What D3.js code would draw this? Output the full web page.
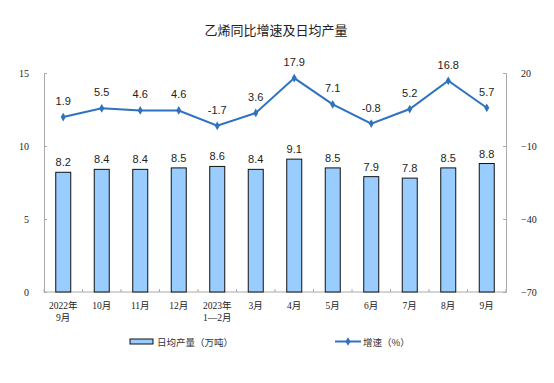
<!DOCTYPE html>
<html>
<head>
<meta charset="utf-8">
<script src="https://cdn.jsdelivr.net/npm/d3@7"></script>
<style>
  body { margin: 0; background: #fff; }
  svg { display: block; }
</style>
</head>
<body>
<svg id="chart" width="554" height="383"></svg>
<script>
// data
const months = ["2022年\n9月", "10月", "11月", "12月", "2023年\n1—2月", "3月", "4月", "5月", "6月", "7月", "8月", "9月"];
const output = [8.2, 8.4, 8.4, 8.5, 8.6, 8.4, 9.1, 8.5, 7.9, 7.8, 8.5, 8.8];
const growth = [1.9, 5.5, 4.6, 4.6, -1.7, 3.6, 17.9, 7.1, -0.8, 5.2, 16.8, 5.7];
const leftTicks = [0, 5, 10, 15];
const rightTicks = [-70, -40, -10, 20];

const svg = d3.select("#chart");
const x0 = 44, x1 = 506, yTop = 73, yBot = 292;
const serif = "'Liberation Serif', 'Noto Sans CJK SC', serif";
const sans = "'Liberation Sans', Arial, sans-serif";
const cjk = "'Noto Sans CJK SC', sans-serif";

let x = d3.scaleBand().domain(d3.range(months.length)).range([x0, x1]);
let yL = d3.scaleLinear().domain([0, 15]).range([yBot, yTop]);
let yR = d3.scaleLinear().domain([-70, 20]).range([yBot, yTop]);

// title
svg.append("text")
    .attr("x", 276).attr("y", 35)
    .attr("text-anchor", "middle")
    .style("font-family", cjk).style("font-size", "13px").style("fill", "#222")
    .text("乙烯同比增速及日均产量");

// left axis
let gl = svg.append("g").attr("transform", "translate(" + x0 + ",0)")
    .call(d3.axisLeft(yL).tickValues(leftTicks).tickSize(-3).tickPadding(15));
gl.select(".domain").attr("stroke", "#aaa");
gl.selectAll(".tick line").attr("stroke", "#aaa");
gl.selectAll(".tick text").style("font-family", serif).style("font-size", "10px").attr("fill", "#222");

// right axis
let gr = svg.append("g").attr("transform", "translate(" + x1 + ",0)")
    .call(d3.axisRight(yR).tickValues(rightTicks).tickSize(-3).tickPadding(15));
gr.select(".domain").attr("stroke", "#aaa");
gr.selectAll(".tick line").attr("stroke", "#aaa");
gr.selectAll(".tick text").style("font-family", serif).style("font-size", "10px").attr("fill", "#222");

// x axis baseline with ticks between categories
let gx = svg.append("g");
gx.append("line").attr("x1", x0).attr("x2", x1).attr("y1", yBot).attr("y2", yBot).attr("stroke", "#aaa");
gx.selectAll(".sep").data(d3.range(months.length + 1)).enter().append("line")
    .attr("x1", i => x0 + i * x.step()).attr("x2", i => x0 + i * x.step())
    .attr("y1", yBot).attr("y2", yBot - 3).attr("stroke", "#aaa");
gx.selectAll(".lab").data(months).enter().append("text")
    .attr("x", (d, i) => x(i) + x.bandwidth() / 2)
    .attr("y", yBot + 17)
    .attr("text-anchor", "middle")
    .style("font-family", serif).style("font-size", "9.5px").attr("fill", "#222")
    .each(function(d) {
        let t = d3.select(this);
        d.split("\n").forEach((s, k) => {
            t.append("tspan").attr("x", t.attr("x")).attr("dy", k ? 12 : 0).text(s);
        });
    });

// bars
const bw = 15;
svg.append("g").selectAll("rect").data(output).enter().append("rect")
    .attr("x", (d, i) => x(i) + x.bandwidth() / 2 - bw / 2)
    .attr("y", d => yL(d))
    .attr("width", bw)
    .attr("height", d => yBot - yL(d))
    .attr("fill", "#99ccff").attr("stroke", "#111").attr("stroke-width", 1);

svg.append("g").selectAll("text").data(output).enter().append("text")
    .attr("x", (d, i) => x(i) + x.bandwidth() / 2)
    .attr("y", d => yL(d) - 6)
    .attr("text-anchor", "middle")
    .style("font-family", sans).style("font-size", "11px").attr("fill", "#222")
    .text(d => d.toFixed(1));

// growth line
const blue = "#2e72c0";
let line = d3.line().x((d, i) => x(i) + x.bandwidth() / 2).y(d => yR(d));
svg.append("path").datum(growth).attr("d", line)
    .attr("fill", "none").attr("stroke", blue).attr("stroke-width", 2);
let diamond = d3.symbol().type(d3.symbolDiamond).size(22);
svg.append("g").selectAll("path").data(growth).enter().append("path")
    .attr("d", diamond)
    .attr("transform", (d, i) => "translate(" + (x(i) + x.bandwidth() / 2) + "," + yR(d) + ")")
    .attr("fill", blue);
svg.append("g").selectAll("text").data(growth).enter().append("text")
    .attr("x", (d, i) => x(i) + x.bandwidth() / 2)
    .attr("y", d => yR(d) - 12)
    .attr("text-anchor", "middle")
    .style("font-family", sans).style("font-size", "11px").attr("fill", "#222")
    .text(d => d.toFixed(1));

// legend
let lg = svg.append("g");
lg.append("rect").attr("x", 130).attr("y", 339).attr("width", 23).attr("height", 5)
    .attr("fill", "#99ccff").attr("stroke", "#111").attr("stroke-width", 1);
lg.append("text").attr("x", 157).attr("y", 345.5)
    .style("font-family", cjk).style("font-size", "9.5px").attr("fill", "#333")
    .text("日均产量（万吨）");
lg.append("line").attr("x1", 335).attr("x2", 361).attr("y1", 341.5).attr("y2", 341.5)
    .attr("stroke", blue).attr("stroke-width", 2);
lg.append("path").attr("d", diamond).attr("transform", "translate(348,341.5)").attr("fill", blue);
lg.append("text").attr("x", 363).attr("y", 345.5)
    .style("font-family", cjk).style("font-size", "9.5px").attr("fill", "#333")
    .text("增速（%）");
</script>
</body>
</html>
